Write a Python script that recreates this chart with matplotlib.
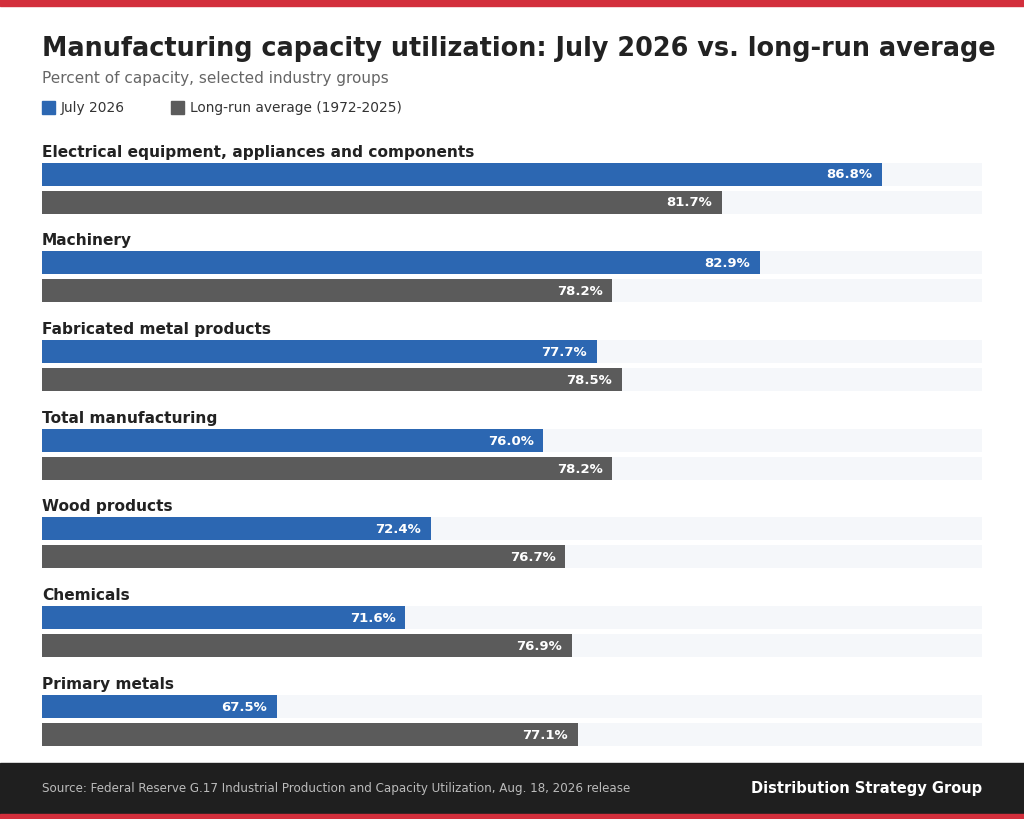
import matplotlib.pyplot as plt
from matplotlib.patches import Rectangle

plt.rcParams['font.family'] = ['DejaVu Sans']

# Data
categories = ['Electrical equipment, appliances and components', 'Machinery',
              'Fabricated metal products', 'Total manufacturing', 'Wood products',
              'Chemicals', 'Primary metals']
july_2026 = [86.8, 82.9, 77.7, 76.0, 72.4, 71.6, 67.5]
long_run = [81.7, 78.2, 78.5, 78.2, 76.7, 76.9, 77.1]
series_names = ['July 2026', 'Long-run average (1972-2025)']

BLUE = '#2c67b2'
GREY = '#5b5b5b'
RED = '#d32f3c'
DARK = '#1f1f1f'
TRACK = '#f5f7fa'
XMIN, XMAX = 60, 90

W, H = 1024, 820
fig = plt.figure(figsize=(W / 100, H / 100), dpi=100)
fig.patch.set_facecolor('white')

# top and bottom bands, footer
fig.patches.append(Rectangle((0, 1 - 7 / H), 1, 7 / H, transform=fig.transFigure,
                             color=RED, zorder=0))
fig.patches.append(Rectangle((0, 0), 1, 56 / H, transform=fig.transFigure,
                             color=DARK, zorder=0))
fig.patches.append(Rectangle((0, 0), 1, 5 / H, transform=fig.transFigure,
                             color=RED, zorder=1))

def fy(py):
    return 1 - py / H

fig.text(42 / W, fy(49), 'Manufacturing capacity utilization: July 2026 vs. long-run average',
         fontsize=18.4, fontweight='bold', color='#222222', va='center', ha='left')
fig.text(42 / W, fy(79), 'Percent of capacity, selected industry groups',
         fontsize=11, color='#666666', va='center', ha='left')

# legend
for x0, name, col in [(42, series_names[0], BLUE), (171, series_names[1], GREY)]:
    fig.patches.append(Rectangle((x0 / W, fy(115)), 13 / W, 13 / H,
                                 transform=fig.transFigure, color=col))
    fig.text((x0 + 19) / W, fy(108), name, fontsize=9.9, color='#333333',
             va='center', ha='left')

# bars
ax = fig.add_axes([42 / W, fy(752), 940 / W, (752 - 140) / H])
ax.set_xlim(XMIN, XMAX)
ax.set_ylim(752, 140)
ax.axis('off')

pitch = 88.7
bar_h = 23
for i, cat in enumerate(categories):
    base = 152 + pitch * i
    ax.text(XMIN, base, cat, fontsize=11.1, fontweight='bold', color='#222222',
            va='center', ha='left')
    for off, val, col in [(23, july_2026[i], BLUE), (51, long_run[i], GREY)]:
        yc = base + off
        ax.barh(yc, XMAX - XMIN, left=XMIN, height=bar_h, color=TRACK, zorder=1)
        ax.barh(yc, val - XMIN, left=XMIN, height=bar_h, color=col, zorder=2)
        ax.annotate(f'{val:.1f}%', (val, yc), xytext=(-7, 0), textcoords='offset points',
                    fontsize=9.5, fontweight='bold', color='white',
                    va='center', ha='right', zorder=3)

fig.text(42 / W, fy(789), 'Source: Federal Reserve G.17 Industrial Production and Capacity '
         'Utilization, Aug. 18, 2026 release', fontsize=8.6, color='#bbbbbb',
         va='center', ha='left')
fig.text(982 / W, fy(789), 'Distribution Strategy Group', fontsize=10.5,
         fontweight='bold', color='white', va='center', ha='right')

fig.savefig('out.png', dpi=100, facecolor=fig.get_facecolor())
